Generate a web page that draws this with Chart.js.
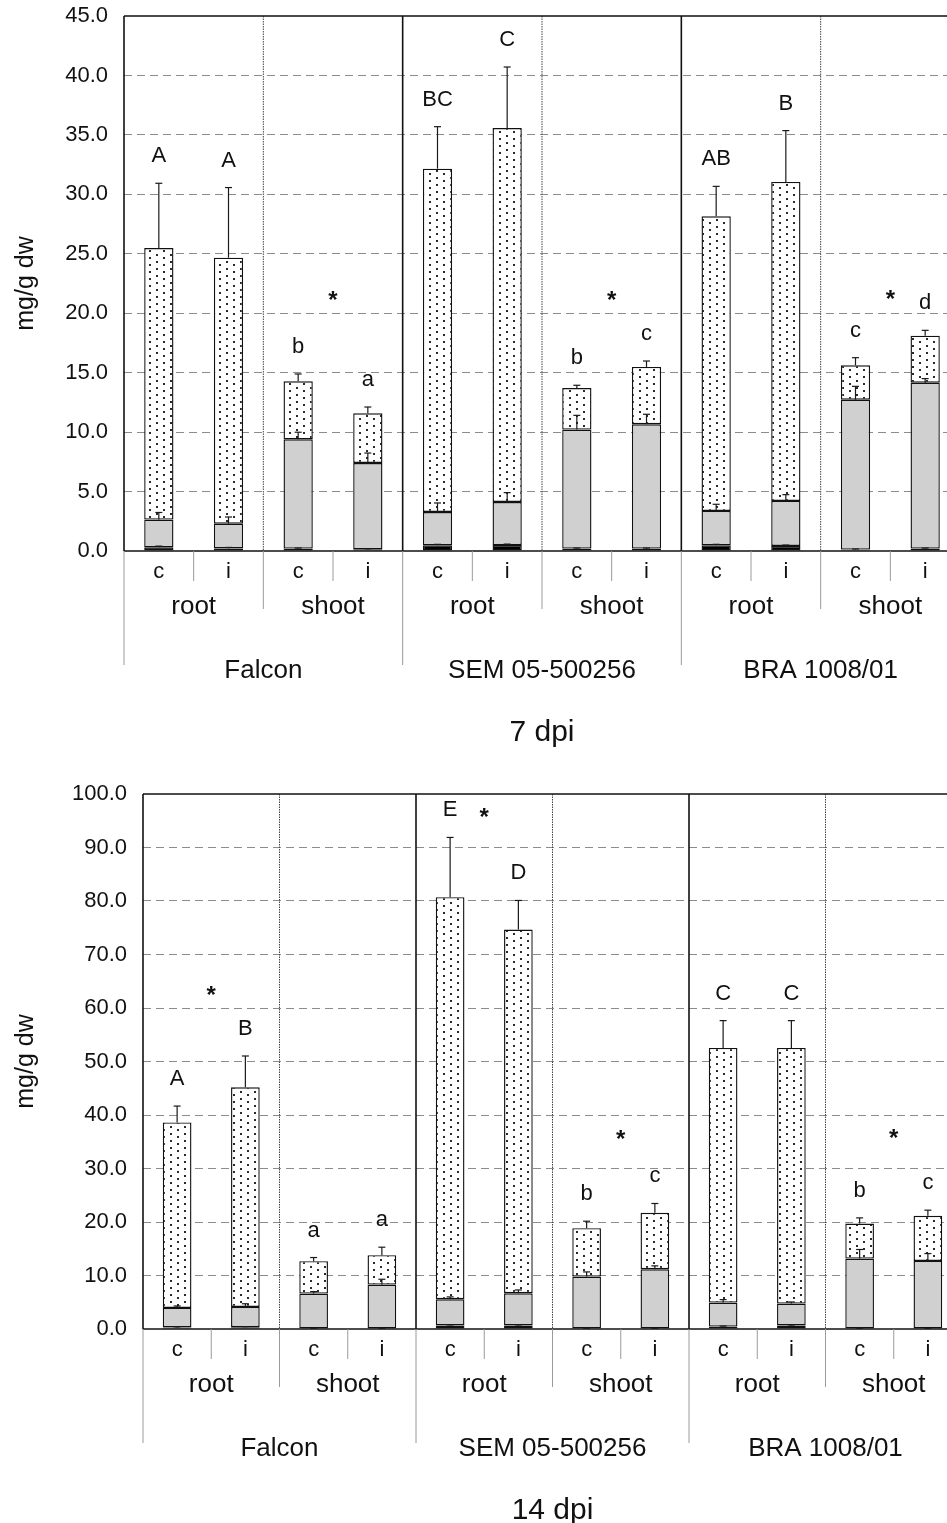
<!DOCTYPE html>
<html lang="en">
<head>
<meta charset="UTF-8">
<title>Carbohydrate fractions, 7 and 14 dpi</title>
<script src="https://cdn.jsdelivr.net/npm/chart.js@4"></script>
<style>
  html, body { margin: 0; padding: 0; background: #fff; overflow: hidden; }
  body { width: 947px; height: 1523px; position: relative; }
  canvas { position: absolute; left: 0; }
  #chart7 { top: 0; }
  #chart14 { top: 760px; }
</style>
</head>
<body>
<canvas id="chart7" width="975" height="760"></canvas>
<canvas id="chart14" width="975" height="763"></canvas>
<script>
// x axis levels: cultivar > tissue > treatment
const cultivars = ['Falcon', 'SEM 05-500256', 'BRA 1008/01'];
const tissues = ['root', 'shoot'];
const treatments = ['c', 'i'];

// 7 dpi, mg/g dw, stacked fractions (bottom to top)
const dark7   = [0.31, 0.22, 0.20, 0.14, 0.48, 0.50, 0.20, 0.20, 0.48, 0.42, 0.12, 0.20];
const gray7   = [2.33, 2.08, 9.19, 7.26, 2.80, 3.62, 10.01, 10.46, 2.89, 3.79, 12.61, 13.96];
const dotted7 = [22.84, 22.37, 4.88, 4.18, 28.88, 31.46, 3.50, 4.82, 24.78, 26.83, 2.89, 3.95];
// standard errors (upper bars) per fraction
const darkErr7   = [0.10, 0.08, 0.05, 0.05, 0.08, 0.08, 0.05, 0.05, 0.08, 0.08, 0.05, 0.05];
const grayErr7   = [0.60, 0.56, 0.60, 0.84, 0.76, 0.79, 1.20, 0.84, 0.56, 0.53, 1.12, 0.34];
const dottedErr7 = [5.45, 5.90, 0.62, 0.53, 3.53, 5.13, 0.23, 0.50, 2.52, 4.32, 0.64, 0.45];
const letters7 = ['A', 'A', 'b', 'a', 'BC', 'C', 'b', 'c', 'AB', 'B', 'c', 'd'];
// significant c/i pairs (pair index = cultivar*2 + tissue) and marker level
const starPairs7 = [1, 3, 5];
const starLevels7 = [21.65, 21.65, 21.7];

// 14 dpi
const dark14   = [0.30, 0.35, 0.10, 0.10, 0.65, 0.65, 0.10, 0.10, 0.45, 0.65, 0.10, 0.10];
const gray14   = [3.63, 3.77, 6.52, 8.20, 4.91, 6.03, 9.70, 11.07, 4.48, 4.10, 13.07, 12.62];
const dotted14 = [34.69, 41.05, 6.05, 5.49, 75.16, 67.99, 9.04, 10.54, 47.60, 47.78, 6.54, 8.43];
const darkErr14   = [0.10, 0.10, 0.05, 0.05, 0.12, 0.12, 0.05, 0.05, 0.10, 0.10, 0.05, 0.05];
const grayErr14   = [0.37, 0.60, 0.37, 1.00, 0.44, 0.62, 0.87, 0.63, 0.56, 0.30, 1.69, 1.38];
const dottedErr14 = [3.05, 5.86, 0.69, 1.50, 11.16, 5.43, 1.31, 1.75, 5.11, 5.11, 1.06, 1.06];
const letters14 = ['A', 'B', 'a', 'a', 'E', 'D', 'b', 'c', 'C', 'C', 'b', 'c'];
const starPairs14 = [0, 2, 3, 5];
const starLevels14 = [63.6, 96.75, 36.7, 36.9];

const FONT = '"Liberation Sans", Arial, Helvetica, sans-serif';

const labels = [];
cultivars.forEach(cv => tissues.forEach(t => treatments.forEach(tr => labels.push(cv + ' ' + t + ' ' + tr))));

// white fill with small staggered dots
function dotPattern() {
  const c = document.createElement('canvas');
  c.width = 14; c.height = 14;
  const g = c.getContext('2d');
  g.fillStyle = '#fff';
  g.fillRect(0, 0, 14, 14);
  g.fillStyle = '#2a2a2a';
  [[2, 2], [2, 9], [9, 5], [9, 12]].forEach(([px, py]) => g.fillRect(px, py, 2, 2));
  return g.createPattern(c, 'repeat');
}

function line(ctx, x1, y1, x2, y2) {
  ctx.beginPath();
  ctx.moveTo(x1, y1);
  ctx.lineTo(x2, y2);
  ctx.stroke();
}

// frame, group separators, error bars, letters and the grouped x labels
const panelDecor = {
  id: 'panelDecor',
  afterDatasetsDraw(chart, args, opts) {
    const { ctx, chartArea: a, scales: { x, y } } = chart;
    const n = chart.data.labels.length;
    const w = x.getPixelForValue(1) - x.getPixelForValue(0);
    const edge = i => x.getPixelForValue(i) - w / 2;
    const y0 = y.getPixelForValue(0);
    const sets = chart.data.datasets;
    ctx.save();

    // dotted root/shoot separators
    ctx.lineWidth = 1;
    ctx.strokeStyle = '#444';
    ctx.setLineDash([1.5, 1]);
    for (let i = 2; i < n; i += 4) line(ctx, edge(i), a.top, edge(i), y0);
    ctx.setLineDash([]);

    // cultivar separators and frame
    ctx.strokeStyle = '#111';
    ctx.lineWidth = 1.6;
    for (let i = 4; i < n; i += 4) line(ctx, edge(i), a.top, edge(i), y0);
    line(ctx, a.left, a.top, a.right, a.top);
    line(ctx, a.left, a.top, a.left, y0);
    line(ctx, a.left, y0, a.right, y0);

    // upper error bars on every stacked fraction
    ctx.strokeStyle = '#1a1a1a';
    ctx.lineWidth = 1.2;
    const totals = new Array(n).fill(0);
    sets.forEach((ds, d) => {
      const meta = chart.getDatasetMeta(d);
      ds.data.forEach((v, j) => {
        totals[j] += v;
        const err = opts.errors[d][j];
        const px = meta.data[j].x;
        const yTop = y.getPixelForValue(totals[j]);
        const yErr = y.getPixelForValue(totals[j] + err);
        line(ctx, px, yTop, px, yErr);
        line(ctx, px - 3.5, yErr, px + 3.5, yErr);
      });
    });

    // group letters above the bars
    ctx.fillStyle = '#111';
    ctx.textAlign = 'center';
    ctx.textBaseline = 'alphabetic';
    ctx.font = '22px ' + FONT;
    const last = sets.length - 1;
    opts.letters.forEach((s, j) => {
      const top = y.getPixelForValue(totals[j] + opts.errors[last][j]);
      ctx.fillText(s, x.getPixelForValue(j), top - 21);
    });

    // c vs i significance
    ctx.font = 'bold 24px ' + FONT;
    opts.starPairs.forEach((p, k) => {
      const cx = (x.getPixelForValue(2 * p) + x.getPixelForValue(2 * p + 1)) / 2;
      ctx.fillText('*', cx, y.getPixelForValue(opts.starLevels[k]) + 14);
    });

    // tick separators below the axis
    ctx.strokeStyle = '#9a9a9a';
    ctx.lineWidth = 1;
    for (let i = 0; i <= n; i++) {
      const depth = i % 4 === 0 ? 114 : (i % 2 === 0 ? 58 : 30);
      line(ctx, edge(i), y0, edge(i), y0 + depth);
    }

    // grouped category labels
    ctx.fillStyle = '#111';
    ctx.font = '22px ' + FONT;
    for (let i = 0; i < n; i++) {
      ctx.fillText(treatments[i % 2], x.getPixelForValue(i), y0 + 27);
    }
    ctx.font = '26px ' + FONT;
    for (let p = 0; p < n / 2; p++) {
      const cx = (x.getPixelForValue(2 * p) + x.getPixelForValue(2 * p + 1)) / 2;
      ctx.fillText(tissues[p % 2], cx, y0 + 63);
    }
    for (let c = 0; c < n / 4; c++) {
      const cx = (edge(4 * c) + edge(4 * c + 4)) / 2;
      ctx.fillText(cultivars[c], cx, y0 + 127);
    }
    ctx.font = '30px ' + FONT;
    ctx.fillText(opts.title, (a.left + a.right) / 2, y0 + 190);
    ctx.restore();
  }
};

const dots = dotPattern();

function makeChart(id, cfg) {
  const base = { borderColor: '#111', borderWidth: 1.4, borderSkipped: false, categoryPercentage: 1, barPercentage: 0.42 };
  return new Chart(document.getElementById(id), {
    type: 'bar',
    data: {
      labels: labels,
      datasets: [
        Object.assign({ data: cfg.dark, backgroundColor: '#000' }, base),
        Object.assign({ data: cfg.gray, backgroundColor: '#d0d0d0' }, base),
        Object.assign({ data: cfg.dotted, backgroundColor: dots }, base)
      ]
    },
    options: {
      responsive: false,
      animation: false,
      events: [],
      layout: { padding: { top: cfg.padTop, bottom: cfg.padBottom, left: 0, right: cfg.padRight } },
      plugins: {
        legend: { display: false },
        tooltip: { enabled: false },
        panelDecor: {
          errors: cfg.errors,
          letters: cfg.letters,
          starPairs: cfg.starPairs,
          starLevels: cfg.starLevels,
          title: cfg.title
        }
      },
      scales: {
        x: {
          stacked: true,
          ticks: { display: false },
          grid: { display: false },
          border: { display: false },
          afterFit: s => { s.height = 0; }
        },
        y: {
          stacked: true,
          min: 0,
          max: cfg.max,
          ticks: {
            stepSize: cfg.step,
            padding: 16,
            color: '#111',
            font: { family: FONT, size: 22 },
            callback: v => v.toFixed(1)
          },
          grid: {
            drawTicks: false,
            lineWidth: 1,
            color: c => (c.tick.value === 0 || c.tick.value === cfg.max) ? 'rgba(0,0,0,0)' : '#8c8c8c'
          },
          border: { display: false, dash: [8, 5] },
          title: {
            display: true,
            text: 'mg/g dw',
            color: '#111',
            font: { family: FONT, size: 25 },
            padding: { top: 11, bottom: 0 }
          },
          afterFit: s => {
            s.width = cfg.axisWidth;
            s.paddingTop = 0;
            s.paddingBottom = 0;
          }
        }
      }
    },
    plugins: [panelDecor]
  });
}

makeChart('chart7', {
  dark: dark7, gray: gray7, dotted: dotted7,
  errors: [darkErr7, grayErr7, dottedErr7],
  letters: letters7, starPairs: starPairs7, starLevels: starLevels7,
  title: '7 dpi', max: 45, step: 5,
  axisWidth: 124, padTop: 16, padBottom: 209, padRight: 15
});

makeChart('chart14', {
  dark: dark14, gray: gray14, dotted: dotted14,
  errors: [darkErr14, grayErr14, dottedErr14],
  letters: letters14, starPairs: starPairs14, starLevels: starLevels14,
  title: '14 dpi', max: 100, step: 10,
  axisWidth: 143, padTop: 34, padBottom: 194, padRight: 13
});
</script>
</body>
</html>
